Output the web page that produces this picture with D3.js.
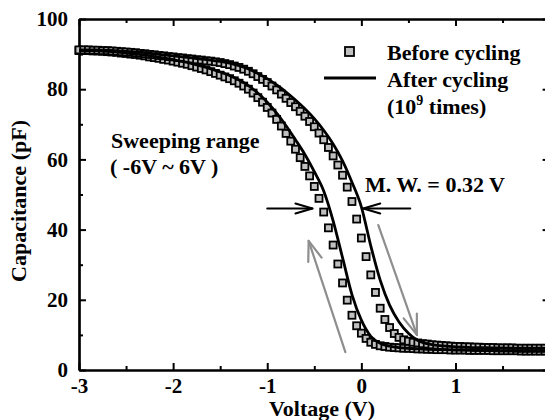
<!DOCTYPE html>
<html>
<head>
<meta charset="utf-8">
<script src="https://cdn.jsdelivr.net/npm/d3@7"></script>
<style>
  html, body { margin: 0; padding: 0; background: #fff; }
  svg { display: block; }
  svg text { font-family: "Liberation Serif", Tinos, "Times New Roman", Times, "DejaVu Serif", serif !important; font-weight: bold; fill: #000; }
</style>
</head>
<body>
<svg id="chart" width="545" height="420"></svg>
<script>
// Sweep voltages of the measured C-V points (V)
const voltage = [
  -3.00,-2.95,-2.90,-2.85,-2.80,-2.75,-2.70,-2.65,-2.60,-2.55,
  -2.50,-2.45,-2.40,-2.35,-2.30,-2.25,-2.20,-2.15,-2.10,-2.05,
  -2.00,-1.95,-1.90,-1.85,-1.80,-1.75,-1.70,-1.65,-1.60,-1.55,
  -1.50,-1.45,-1.40,-1.35,-1.30,-1.25,-1.20,-1.15,-1.10,-1.05,
  -1.00,-0.95,-0.90,-0.85,-0.80,-0.75,-0.70,-0.65,-0.60,-0.55,
  -0.50,-0.45,-0.40,-0.35,-0.30,-0.25,-0.20,-0.15,-0.10,-0.05,
   0.00, 0.05, 0.10, 0.15, 0.20, 0.25, 0.30, 0.35, 0.40, 0.45,
   0.50, 0.55, 0.60, 0.65, 0.70, 0.75, 0.80, 0.85, 0.90, 0.95,
   1.00, 1.05, 1.10, 1.15, 1.20, 1.25, 1.30, 1.35, 1.40, 1.45,
   1.50, 1.55, 1.60, 1.65, 1.70, 1.75, 1.80, 1.85, 1.90, 1.95, 2.00
];

// Before cycling, sweep from positive to negative bias (pF)
const beforeBackward = [
  91.0,91.0,91.0,90.9,90.9,90.8,90.7,90.6,90.5,90.3,
  90.2,90.0,89.9,89.7,89.5,89.2,89.0,88.8,88.5,88.3,
  88.0,87.7,87.4,87.1,86.7,86.3,85.9,85.5,85.0,84.5,
  84.0,83.5,83.0,82.4,81.7,80.9,80.0,78.9,77.6,76.3,
  74.8,73.2,71.4,69.5,67.4,65.2,62.9,60.5,58.0,55.3,
  52.3,48.9,45.0,40.5,35.6,30.2,24.8,19.9,15.6,12.6,
  10.5, 9.0, 7.9, 7.3, 6.9, 6.7, 6.5, 6.4, 6.3, 6.2,
   6.2, 6.1, 6.0, 6.0, 5.9, 5.9, 5.8, 5.8, 5.8, 5.7,
   5.7, 5.7, 5.7, 5.6, 5.6, 5.6, 5.6, 5.6, 5.5, 5.5,
   5.5, 5.5, 5.5, 5.5, 5.4, 5.4, 5.4, 5.4, 5.4, 5.4, 5.4
];

// Before cycling, sweep from negative to positive bias (pF)
const beforeForward = [
  91.2,91.2,91.2,91.1,91.1,91.0,91.0,90.9,90.8,90.7,
  90.6,90.5,90.4,90.2,90.1,89.9,89.8,89.6,89.5,89.3,
  89.2,89.0,88.9,88.7,88.6,88.4,88.3,88.1,88.0,87.8,
  87.6,87.3,87.0,86.6,86.2,85.7,85.1,84.4,83.6,82.8,
  81.9,80.9,79.8,78.6,77.4,76.2,75.0,73.7,72.3,70.8,
  69.3,67.5,65.6,63.4,61.0,58.4,55.5,52.1,48.0,43.0,
  37.6,32.3,27.1,22.1,17.6,14.4,12.1,10.4, 9.3, 8.6,
   8.2, 7.9, 7.7, 7.5, 7.4, 7.2, 7.1, 7.0, 6.9, 6.8,
   6.7, 6.7, 6.6, 6.6, 6.5, 6.5, 6.4, 6.4, 6.4, 6.3,
   6.3, 6.3, 6.3, 6.2, 6.2, 6.2, 6.2, 6.2, 6.2, 6.2, 6.2
];

// After 10^9 cycles, sampled every 0.1 V
const lineVoltage = [
  -3.0,-2.9,-2.8,-2.7,-2.6,-2.5,-2.4,-2.3,-2.2,-2.1,
  -2.0,-1.9,-1.8,-1.7,-1.6,-1.5,-1.4,-1.3,-1.2,-1.1,
  -1.0,-0.9,-0.8,-0.7,-0.6,-0.5,-0.4,-0.3,-0.2,-0.1,
   0.0, 0.1, 0.2, 0.3, 0.4, 0.5, 0.6, 0.7, 0.8, 0.9,
   1.0, 1.1, 1.2, 1.3, 1.4, 1.5, 1.6, 1.7, 1.8, 1.9, 2.0
];
const afterBackward = [
  91.0,91.0,90.9,90.8,90.6,90.3,90.0,89.7,89.3,88.9,
  88.4,87.9,87.3,86.6,85.8,84.9,83.9,82.6,81.0,78.9,
  76.3,73.2,69.6,65.6,61.4,56.5,51.0,42.5,32.0,21.5,
  14.2, 9.6, 7.6, 6.8, 6.4, 6.2, 6.0, 5.9, 5.8, 5.8,
   5.7, 5.7, 5.6, 5.6, 5.6, 5.5, 5.5, 5.5, 5.5, 5.5, 5.5
];
const afterForward = [
  91.2,91.2,91.2,91.1,91.0,90.8,90.6,90.4,90.1,89.8,
  89.5,89.2,88.9,88.6,88.3,87.9,87.4,86.7,85.8,84.5,
  83.0,81.2,79.2,76.9,74.4,71.6,68.3,64.4,59.6,53.5,
  46.5,35.4,25.6,18.5,13.7,10.5, 8.4, 7.5, 7.0, 6.8,
   6.6, 6.5, 6.4, 6.4, 6.3, 6.3, 6.2, 6.2, 6.2, 6.2, 6.2
];

// Axis ticks
const xMajorTicks = [-3, -2, -1, 0, 1, 2];
const xMinorTicks = [-2.5, -1.5, -0.5, 0.5, 1.5];
const yMajorTicks = [0, 20, 40, 60, 80, 100];
const yMinorTicks = [10, 30, 50, 70, 90];

// Memory window annotation (V, pF)
const windowLevel = 46;
const windowLeftArrow = [-1.0, -0.52];
const windowRightArrow = [0.52, 0.02];
// Sweep direction arrows: [from, to] as [V, pF]
const sweepArrowUp = [[-0.17, 5.1], [-0.56, 36.8]];
const sweepArrowDown = [[0.18, 41.3], [0.59, 10.0]];

const serif = '"Liberation Serif", Tinos, "Times New Roman", Times, "DejaVu Serif", serif';
const svg = d3.select("#chart");
const margin = { left: 79, top: 19 };
const plotW = 470.6, plotH = 351;

const x = d3.scaleLinear().domain([-3, 2]).range([margin.left, margin.left + plotW]);
const y = d3.scaleLinear().domain([0, 100]).range([margin.top + plotH, margin.top]);

function styleAxis(g) {
  g.attr("font-family", serif).attr("font-size", 21).attr("font-weight", "bold");
  g.select(".domain").attr("stroke", "#000").attr("stroke-width", 2.2);
  g.selectAll(".tick line").attr("stroke", "#000").attr("stroke-width", 2);
  g.selectAll("text").attr("fill", "#000");
}

// Bottom axis with labels
svg.append("g").attr("transform", `translate(0,${y(0)})`)
  .call(d3.axisBottom(x).tickValues(xMajorTicks).tickSize(-7).tickSizeOuter(0)
        .tickPadding(8).tickFormat(d => d < 0 ? "-" + Math.abs(d) : String(d)))
  .call(styleAxis);
svg.append("g").attr("transform", `translate(0,${y(0)})`)
  .call(d3.axisBottom(x).tickValues(xMinorTicks).tickSize(-4).tickSizeOuter(0).tickFormat(""))
  .call(styleAxis);
// Top axis (ticks only)
svg.append("g").attr("transform", `translate(0,${y(100)})`)
  .call(d3.axisTop(x).tickValues(xMajorTicks).tickSize(-7).tickSizeOuter(0).tickFormat(""))
  .call(styleAxis);
svg.append("g").attr("transform", `translate(0,${y(100)})`)
  .call(d3.axisTop(x).tickValues(xMinorTicks).tickSize(-4).tickSizeOuter(0).tickFormat(""))
  .call(styleAxis);
// Left axis with labels
svg.append("g").attr("transform", `translate(${x(-3)},0)`)
  .call(d3.axisLeft(y).tickValues(yMajorTicks).tickSize(-7).tickSizeOuter(0).tickPadding(11))
  .call(styleAxis);
svg.append("g").attr("transform", `translate(${x(-3)},0)`)
  .call(d3.axisLeft(y).tickValues(yMinorTicks).tickSize(-4).tickSizeOuter(0).tickFormat(""))
  .call(styleAxis);
// Right axis (ticks only)
svg.append("g").attr("transform", `translate(${x(2)},0)`)
  .call(d3.axisRight(y).tickValues(yMajorTicks).tickSize(-7).tickSizeOuter(0).tickFormat(""))
  .call(styleAxis);
svg.append("g").attr("transform", `translate(${x(2)},0)`)
  .call(d3.axisRight(y).tickValues(yMinorTicks).tickSize(-4).tickSizeOuter(0).tickFormat(""))
  .call(styleAxis);

// Axis titles
svg.append("text").attr("x", 322).attr("y", 416).attr("text-anchor", "middle")
  .attr("font-size", 22).text("Voltage (V)");
svg.append("text").attr("transform", "translate(26,201) rotate(-90)").attr("text-anchor", "middle")
  .attr("font-size", 22).text("Capacitance (pF)");

// Square markers: before cycling
const markerSize = 7;
const squares = svg.append("g");
[beforeBackward, beforeForward].forEach(series => {
  squares.selectAll(null).data(voltage.map((v, i) => [v, series[i]])).enter()
    .append("rect")
    .attr("x", d => x(d[0]) - markerSize / 2)
    .attr("y", d => y(d[1]) - markerSize / 2)
    .attr("width", markerSize).attr("height", markerSize)
    .attr("fill", "#c0c0c0").attr("stroke", "#000").attr("stroke-width", 1.8);
});

// Solid lines: after cycling
const line = d3.line().x(d => x(d[0])).y(d => y(d[1])).curve(d3.curveMonotoneX);
[afterBackward, afterForward].forEach(series => {
  svg.append("path").datum(lineVoltage.map((v, i) => [v, series[i]]))
    .attr("d", line).attr("fill", "none").attr("stroke", "#000").attr("stroke-width", 2.8);
});

// Arrow helper: shaft plus open chevron head
function arrow(p0, p1, color, width, headLen, headHalf) {
  const dx = p1[0] - p0[0], dy = p1[1] - p0[1];
  const len = Math.hypot(dx, dy), ux = dx / len, uy = dy / len;
  const bx = p1[0] - ux * headLen, by = p1[1] - uy * headLen;
  const g = svg.append("g").attr("stroke", color).attr("stroke-width", width)
    .attr("fill", "none").attr("stroke-linecap", "round").attr("stroke-linejoin", "round");
  g.append("line").attr("x1", p0[0]).attr("y1", p0[1]).attr("x2", p1[0]).attr("y2", p1[1]);
  g.append("polyline").attr("points", [
    [bx - uy * headHalf, by + ux * headHalf], p1, [bx + uy * headHalf, by - ux * headHalf]
  ].map(p => p.join(",")).join(" "));
}

// Memory window arrows
arrow([x(windowLeftArrow[0]), y(windowLevel)], [x(windowLeftArrow[1]), y(windowLevel)], "#000", 2, 17, 5);
arrow([x(windowRightArrow[0]), y(windowLevel)], [x(windowRightArrow[1]), y(windowLevel)], "#000", 2, 17, 5);
// Sweep direction arrows
arrow([x(sweepArrowUp[0][0]), y(sweepArrowUp[0][1])], [x(sweepArrowUp[1][0]), y(sweepArrowUp[1][1])], "#8e8e8e", 2.2, 20, 7);
arrow([x(sweepArrowDown[0][0]), y(sweepArrowDown[0][1])], [x(sweepArrowDown[1][0]), y(sweepArrowDown[1][1])], "#8e8e8e", 2.2, 20, 7);

// Annotations
svg.append("text").attr("x", 365).attr("y", 192).attr("font-size", 22).text("M. W. = 0.32 V");
svg.append("text").attr("x", 111).attr("y", 148).attr("font-size", 22).text("Sweeping range");
svg.append("text").attr("x", 110).attr("y", 174).attr("font-size", 22).text("( -6V ~ 6V )");

// Legend
const legend = svg.append("g");
legend.append("rect").attr("x", 345).attr("y", 47).attr("width", 9).attr("height", 9)
  .attr("fill", "#c0c0c0").attr("stroke", "#000").attr("stroke-width", 1.8);
legend.append("line").attr("x1", 324).attr("x2", 376).attr("y1", 78).attr("y2", 78)
  .attr("stroke", "#000").attr("stroke-width", 3);
legend.append("text").attr("x", 387).attr("y", 60).attr("font-size", 22).text("Before cycling");
legend.append("text").attr("x", 387).attr("y", 87).attr("font-size", 22).text("After cycling");
const t3 = legend.append("text").attr("x", 387).attr("y", 114).attr("font-size", 22);
t3.append("tspan").text("(10");
t3.append("tspan").attr("dy", -9).attr("font-size", 14).text("9");
t3.append("tspan").attr("dy", 9).text(" times)");
</script>
</body>
</html>
